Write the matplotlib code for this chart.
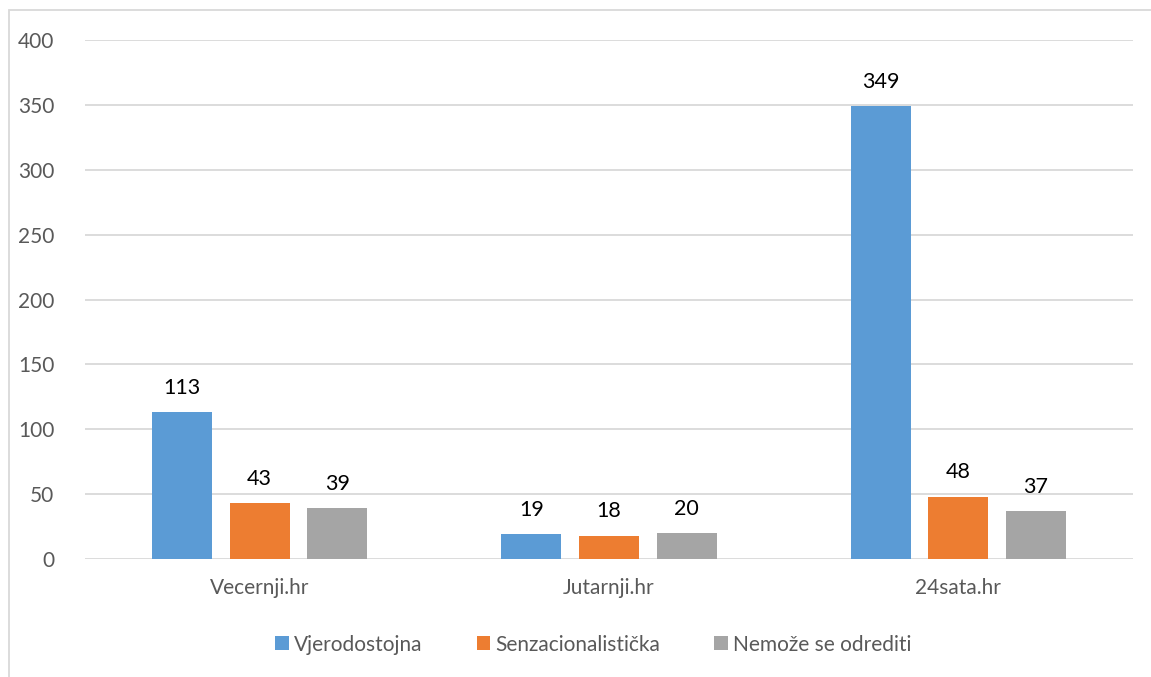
import numpy as np
import matplotlib.pyplot as plt
from matplotlib.patches import Rectangle

categories = ["Vecernji.hr", "Jutarnji.hr", "24sata.hr"]
series_names = ["Vjerodostojna", "Senzacionalistička", "Nemože se odrediti"]
vjerodostojna = [113, 19, 349]
senzacionalisticka = [43, 18, 48]
nemoze = [39, 20, 37]
colors = ["#5b9bd5", "#ed7d31", "#a5a5a5"]

plt.rcParams['font.family'] = ['Lato', 'DejaVu Sans']

fig = plt.figure(figsize=(11.51, 6.77), dpi=100)
# chart border (cropped at right and bottom)
fig.patches.append(Rectangle((9 / 1151, -0.1), 1.2, 1 - 10 / 677 + 0.1,
                             transform=fig.transFigure, fill=False,
                             edgecolor="#d9d9d9", linewidth=1.3))

ax = fig.add_axes([85 / 1151, 1 - 559 / 677, 1048 / 1151, 519 / 677])

x = np.arange(len(categories))
width = 0.172
step = 0.222
for i, (vals, name) in enumerate(zip([vjerodostojna, senzacionalisticka, nemoze], series_names)):
    bars = ax.bar(x + (i - 1) * step, vals, width, color=colors[i], label=name, zorder=3)
    for b, v in zip(bars, vals):
        ax.text(b.get_x() + b.get_width() / 2, v + 11, str(v),
                ha="center", va="bottom", fontsize=15.5, color="black")

ax.set_xlim(-0.5, 2.5)
ax.set_ylim(0, 400)
ax.set_yticks(range(0, 401, 50))
ax.set_xticks(x)
ax.set_xticklabels(categories)
ax.tick_params(length=0, labelsize=15, colors="#595959")
ax.tick_params(axis="y", pad=22)
ax.tick_params(axis="x", pad=14)
ax.grid(axis="y", color="#d9d9d9", linewidth=1.3, zorder=0)
for s in ax.spines.values():
    s.set_visible(False)

ax.legend(loc="center", bbox_to_anchor=(0.485, -0.165), ncol=3, frameon=False,
          fontsize=15, handlelength=0.65, handleheight=0.65, handletextpad=0.25,
          columnspacing=2.6, labelcolor="#595959")

fig.savefig("out.png", dpi=100)
